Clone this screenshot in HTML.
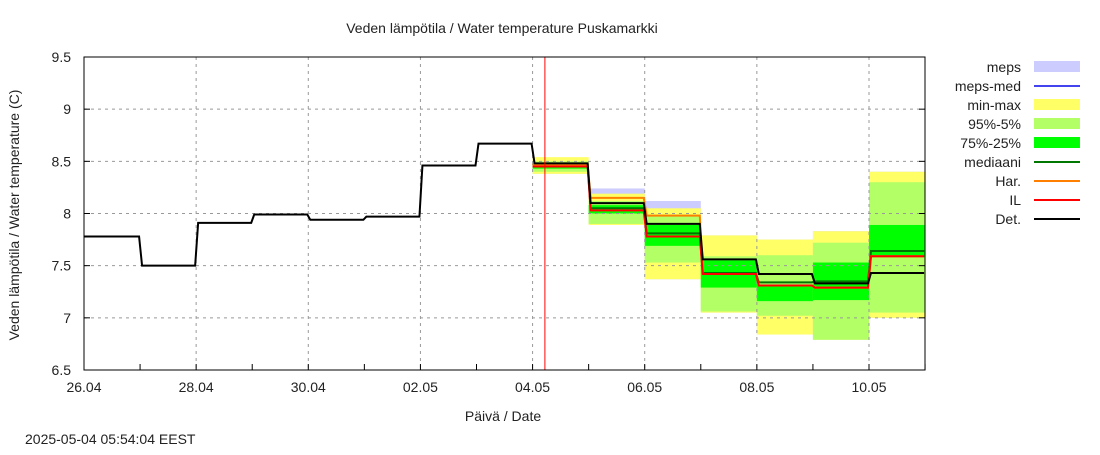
<!DOCTYPE html>
<html><head><meta charset="utf-8"><style>
body{margin:0;background:#fff;}
svg text{font-family:"Liberation Sans",sans-serif;font-size:14px;fill:#222;}
</style></head><body>
<svg id="chart" width="1100" height="450" xmlns="http://www.w3.org/2000/svg">
<rect width="1100" height="450" fill="#fff"/>
<g id="bands"></g><g id="grid"></g><g id="lines"></g><g id="axes"></g><g id="legend"></g>
</svg>
<script>
// data
const xTickLabels=["26.04","28.04","30.04","02.05","04.05","06.05","08.05","10.05"];
const yTickLabels=[6.5,7,7.5,8,8.5,9,9.5];
const histVals=[7.78,7.50,7.91,7.99,7.94,7.97,8.46,8.67]; // day 0..7 (26.04..03.05)
const fcStartDay=8; // 04.05
const fcMax=[8.54,8.19,8.05,7.79,7.75,7.83,8.40];
const fcMin=[8.38,7.89,7.37,7.05,6.84,6.79,7.00];
const p95=[8.50,8.12,7.99,7.59,7.60,7.72,8.30];
const p5=[8.40,7.90,7.53,7.06,7.02,6.79,7.05];
const p75=[8.47,8.08,7.89,7.55,7.32,7.53,7.89];
const p25=[8.43,8.00,7.69,7.29,7.16,7.17,7.58];
const mepsMax=[8.50,8.24,8.12,7.79,7.75,7.83,8.40];
const median=[8.46,8.05,7.81,7.43,7.34,7.35,7.64];
const har=[8.47,8.15,7.98,7.42,7.31,7.29,7.59];
const il=[8.45,8.03,7.78,7.42,7.31,7.29,7.59];
const det=[8.48,8.10,7.90,7.56,7.42,7.33,7.43];
const nowDay=8.22;

const X0=84,X1=925,Y0=57,Y1=370;
const x=d=>X0+d*(869-84)/14;
const y=v=>Y1-(v-6.5)*(Y1-Y0)/3;
const NS="http://www.w3.org/2000/svg";
function mk(tag,attrs,parent){const e=document.createElementNS(NS,tag);for(const k in attrs)e.setAttribute(k,attrs[k]);document.getElementById(parent).appendChild(e);return e;}

function band(top,bot,color,name){
  top.forEach((t,i)=>{const r=mk('rect',{x:x(fcStartDay+i),y:y(t),width:x(fcStartDay+i+1)-x(fcStartDay+i),height:y(bot[i])-y(t),fill:color},'bands');
  
  });
}
band(mepsMax,fcMin,'#ccccff','meps-band');
band(fcMax,fcMin,'#ffff66','min-max-band');
band(p95,p5,'#b3ff66','p95-p5-band');
band(p75,p25,'#00ff00','p75-p25-band');

// grid
yTickLabels.forEach(v=>{if(v>6.5&&v<9.5){const l=mk('line',{x1:X0,x2:X1,y1:y(v),y2:y(v),stroke:'#999','stroke-dasharray':'3,4'},'grid');}});
xTickLabels.forEach((t,i)=>{const xx=x(i*2);if(i>0){const l=mk('line',{x1:xx,x2:xx,y1:Y0,y2:Y1,stroke:'#999','stroke-dasharray':'3,4'},'grid');}});

function stepPath(vals,start,color,w,name){
  let d='';vals.forEach((v,i)=>{const a=x(start+i),b=x(start+i+1);d+=(i?'L':'M')+(a+(i?2:0))+','+y(v)+'L'+(b-1)+','+y(v);});
  const p=mk('path',{d:d,fill:'none',stroke:color,'stroke-width':w},'lines');
  
  
}
stepPath(median,fcStartDay,'#007700',2,'mediaani-line');
stepPath(har,fcStartDay,'#ff8000',2,'har-line');
stepPath(il,fcStartDay,'#ff0000',2,'il-line');
stepPath(histVals.concat(det),0,'#000',2,'det-line');
const nl=mk('line',{x1:x(nowDay),x2:x(nowDay),y1:Y0,y2:Y1,stroke:'#ff0000','stroke-width':1},'lines');



// axes
const fr=mk('rect',{x:X0,y:Y0,width:X1-X0,height:Y1-Y0,fill:'none',stroke:'#000','stroke-width':1},'axes');


yTickLabels.forEach(v=>{const t=mk('text',{x:X0-13,y:y(v)+5,'text-anchor':'end'},'axes');t.textContent=v;
mk('line',{x1:X0,x2:X0+6,y1:y(v),y2:y(v),stroke:'#000'},'axes');mk('line',{x1:X1,x2:X1-6,y1:y(v),y2:y(v),stroke:'#000'},'axes');});
xTickLabels.forEach((s,i)=>{const t=mk('text',{x:x(i*2),y:Y1+22,'text-anchor':'middle'},'axes');t.textContent=s;});
for(let d=0;d<=15;d++){mk('line',{x1:x(d),x2:x(d),y1:Y1,y2:Y1-6,stroke:'#000'},'axes');}
function txt(s,a,name){const t=mk('text',a,'axes');t.textContent=s;return t;}
txt('Veden lämpötila / Water temperature Puskamarkki',{x:502,y:33,'text-anchor':'middle'},'chart-title');
txt('Päivä / Date',{x:503,y:421,'text-anchor':'middle'},'x-axis-title');
txt('Veden lämpötila / Water temperature (C)',{x:19,y:215,'text-anchor':'middle',transform:'rotate(-90 19 215)'},'y-axis-title');
txt('2025-05-04  05:54:04 EEST',{x:25,y:444},'timestamp');

// legend
const legNames=['meps','meps-med','min-max','95%-5%','75%-25%','mediaani','Har.','IL','Det.'];
const legColors=['#ccccff','#4444ee','#ffff66','#b3ff66','#00ff00','#007700','#ff8000','#ff0000','#000000'];
const legBand=[1,0,1,1,1,0,0,0,0];
legNames.forEach((n,i)=>{const cy=67+i*19;
  const t=mk('text',{x:1021,y:cy+5,'text-anchor':'end'},'legend');t.textContent=n;
  
  
  const s=legBand[i]?mk('rect',{x:1034,y:cy-6,width:46,height:11,fill:legColors[i]},'legend'):mk('line',{x1:1034,x2:1080,y1:cy,y2:cy,stroke:legColors[i],'stroke-width':2},'legend');
  
  
});
</script>
</body></html>
